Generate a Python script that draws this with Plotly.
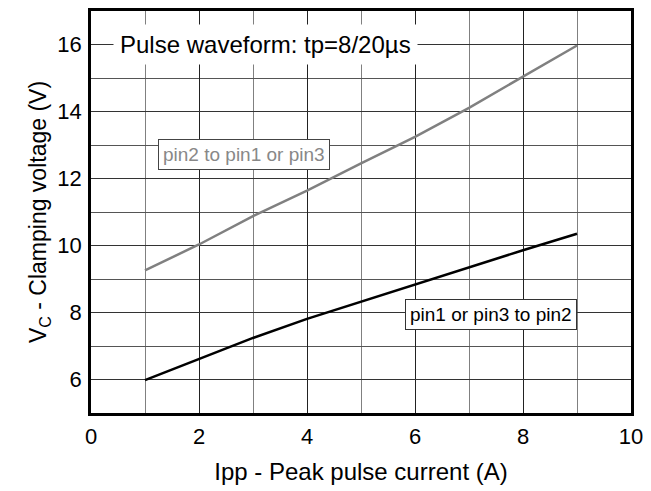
import plotly.graph_objects as go

ipp = [1, 2, 3, 4, 5, 6, 7, 8, 9]
vc_pin2 = [9.26, 10.03, 10.88, 11.64, 12.45, 13.24, 14.11, 15.05, 15.97]
vc_pin13 = [5.98, 6.61, 7.24, 7.81, 8.32, 8.85, 9.35, 9.86, 10.35]

x_ticks = [0, 2, 4, 6, 8, 10]
y_ticks = [6, 8, 10, 12, 14, 16]

FONT = "Liberation Sans, Arial, sans-serif"

fig = go.Figure()
fig.add_trace(go.Scatter(x=ipp, y=vc_pin2, mode="lines",
                         line=dict(color="#808080", width=2.5), showlegend=False))
fig.add_trace(go.Scatter(x=ipp, y=vc_pin13, mode="lines",
                         line=dict(color="#000000", width=2.5), showlegend=False))

fig.update_layout(
    width=651, height=491,
    margin=dict(l=91, r=15, t=8, b=78),
    paper_bgcolor="white", plot_bgcolor="white",
    font=dict(family=FONT, size=22, color="black"),
    xaxis=dict(range=[0, 10], tickvals=x_ticks, ticks="outside", ticklen=2, tickcolor="white",
               showline=True, linewidth=2.5,
               linecolor="black", mirror=True, showgrid=True, gridcolor="#222222",
               gridwidth=1, zeroline=False,
               minor=dict(dtick=1, showgrid=True, gridcolor="#808080", gridwidth=1),
               title=dict(text="Ipp - Peak pulse current (A)", font=dict(size=24), standoff=16),
               tickfont=dict(size=22)),
    yaxis=dict(range=[5, 17], tickvals=y_ticks, ticks="outside", ticklen=2, tickcolor="white",
               showline=True,
               linewidth=2.5, linecolor="black", mirror=True, showgrid=True,
               gridcolor="#333333", gridwidth=1, zeroline=False,
               minor=dict(dtick=1, showgrid=True, gridcolor="#555555", gridwidth=1),
               title=dict(text="V<sub>C</sub> - Clamping voltage (V)", font=dict(size=23), standoff=5),
               tickfont=dict(size=22)),
)

fig.add_annotation(x=3.24, y=16, xref="x", yref="y", text="Pulse waveform: tp=8/20µs",
                   showarrow=False, bgcolor="white", borderpad=6,
                   font=dict(size=24, color="black", family=FONT))
fig.add_annotation(x=2.84, y=12.71, xref="x", yref="y", text="pin2 to pin1 or pin3",
                   showarrow=False, bgcolor="white", bordercolor="#444444", borderwidth=1,
                   borderpad=4, font=dict(size=19, color="#888888", family=FONT))
fig.add_annotation(x=7.40, y=7.93, xref="x", yref="y", text="pin1 or pin3 to pin2",
                   showarrow=False, bgcolor="white", bordercolor="#333333", borderwidth=1,
                   borderpad=4, font=dict(size=19, color="black", family=FONT))

fig.write_html("out.html", config={"displayModeBar": False},
               post_script="document.body.style.margin='0';document.body.style.overflow='hidden';")
